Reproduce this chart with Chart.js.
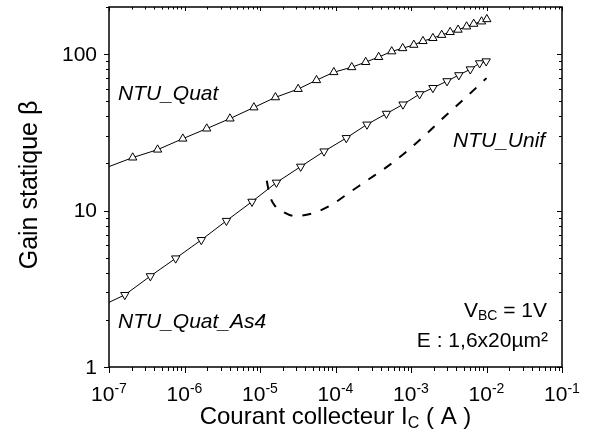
<!DOCTYPE html>
<html>
<head>
<meta charset="utf-8">
<script src="https://cdn.jsdelivr.net/npm/chart.js@4.4.0/dist/chart.umd.min.js"></script>
<style>
  html, body { margin: 0; padding: 0; background: #fff; }
  #chart { display: block; }
</style>
</head>
<body>
<canvas id="chart" width="589" height="432"></canvas>
<script>
// NTU_Quat (up triangles), collector current in A, static gain
const quatI = [1e-7, 2.06e-7, 4.4e-7, 9.5e-7, 1.97e-6, 4.0e-6, 8.3e-6, 1.6e-5, 3.2e-5, 5.6e-5, 9.5e-5, 1.64e-4, 2.51e-4, 3.73e-4, 5.55e-4, 7.76e-4, 1.09e-3, 1.44e-3, 1.95e-3, 2.55e-3, 3.3e-3, 4.2e-3, 5.45e-3, 6.77e-3, 8.6e-3, 1.01e-2];
const quatBeta = [19.1, 21.8, 24.5, 28.8, 33.4, 38.7, 45.6, 52.9, 59.8, 68.1, 76.6, 82.4, 88.9, 95.7, 104, 109, 114.5, 121, 126.5, 132.5, 138.2, 143, 150, 156, 161.5, 167];

// NTU_Quat_As4 (down triangles)
const as4I = [1e-7, 1.62e-7, 3.53e-7, 7.64e-7, 1.67e-6, 3.59e-6, 7.83e-6, 1.65e-5, 3.46e-5, 7.05e-5, 1.39e-4, 2.61e-4, 4.72e-4, 7.83e-4, 1.30e-3, 1.95e-3, 3.0e-3, 4.3e-3, 6.1e-3, 8.1e-3, 9.9e-3];
const as4Beta = [2.59, 2.89, 3.81, 4.95, 6.49, 8.6, 11.4, 15.1, 19.1, 23.9, 29.1, 35.5, 41.6, 47.7, 55.5, 60.8, 67.2, 73.4, 80, 87.5, 90];

// NTU_Unif (dashed)
const unifI = [1.23e-5, 1.34e-5, 1.56e-5, 2.06e-5, 2.88e-5, 4.84e-5, 8.65e-5, 1.55e-4, 2.68e-4, 5.0e-4, 8.8e-4, 1.57e-3, 2.8e-3, 5.0e-3, 1.0e-2];
const unifBeta = [15.5, 12.6, 10.8, 9.77, 9.22, 9.57, 10.8, 13.1, 15.7, 19.3, 23.9, 30.6, 39.9, 51.4, 70.2];

// axis ticks
const xTickExps = [-7, -6, -5, -4, -3, -2, -1];
const yTickLabels = [1, 10, 100];

const FONT = "'Liberation Sans', Arial, sans-serif";

function points(xs, ys) {
  return xs.map((v, i) => ({ x: v, y: ys[i] }));
}

// draw a run of text pieces (for sub/superscripts)
function drawParts(ctx, parts, x, y, align) {
  const fontOf = p => (p.italic ? 'italic ' : '') + p.size + 'px ' + FONT;
  let w = 0;
  parts.forEach(p => { ctx.font = fontOf(p); w += ctx.measureText(p.t).width; });
  let cx = align === 'center' ? x - w / 2 : align === 'right' ? x - w : x;
  ctx.textAlign = 'left';
  ctx.textBaseline = 'alphabetic';
  parts.forEach(p => {
    ctx.font = fontOf(p);
    ctx.fillText(p.t, cx, y + (p.dy || 0));
    cx += ctx.measureText(p.t).width;
  });
}

const framePlugin = {
  id: 'frame',
  afterDraw(chart) {
    const ctx = chart.ctx;
    const { left, right, top, bottom } = chart.chartArea;
    const xs = chart.scales.x, ys = chart.scales.y;
    ctx.save();
    ctx.strokeStyle = '#000';
    ctx.fillStyle = '#000';
    ctx.lineWidth = 1.5;
    ctx.strokeRect(left, top, right - left, bottom - top);

    // tick marks
    ctx.lineWidth = 1;
    ctx.beginPath();
    xTickExps.forEach(e => {
      const px = Math.round(xs.getPixelForValue(Math.pow(10, e))) + 0.5;
      ctx.moveTo(px, bottom); ctx.lineTo(px, bottom + 6);
      ctx.moveTo(px, top); ctx.lineTo(px, top + 4);
      if (e < -1) {
        for (let k = 2; k <= 9; k++) {
          const mx = Math.round(xs.getPixelForValue(k * Math.pow(10, e))) + 0.5;
          ctx.moveTo(mx, bottom); ctx.lineTo(mx, bottom + 4);
          ctx.moveTo(mx, top); ctx.lineTo(mx, top + 2.5);
        }
      }
    });
    yTickLabels.forEach(v => {
      const py = Math.round(ys.getPixelForValue(v)) + 0.5;
      ctx.moveTo(left, py); ctx.lineTo(left - 5, py);
      ctx.moveTo(right, py); ctx.lineTo(right - 5, py);
      for (let k = 2; k <= 9; k++) {
        const val = k * v;
        if (val > ys.max) break;
        const my = Math.round(ys.getPixelForValue(val)) + 0.5;
        ctx.moveTo(left, my); ctx.lineTo(left - 3, my);
        ctx.moveTo(right, my); ctx.lineTo(right - 3, my);
      }
    });
    ctx.stroke();

    // tick labels
    xTickExps.forEach(e => {
      const px = xs.getPixelForValue(Math.pow(10, e));
      drawParts(ctx, [{ t: '10', size: 21 }, { t: String(e), size: 14, dy: -8 }], px, 401, 'center');
    });
    ctx.font = '21px ' + FONT;
    ctx.textAlign = 'right';
    ctx.textBaseline = 'middle';
    yTickLabels.forEach(v => {
      ctx.fillText(String(v), 97, ys.getPixelForValue(v) + 1);
    });

    // axis titles
    drawParts(ctx, [
      { t: 'Courant collecteur I', size: 24 },
      { t: 'C', size: 16, dy: 4 },
      { t: ' ( A )', size: 24 }
    ], (left + right) / 2, 424, 'center');

    ctx.save();
    ctx.translate(37, 185);
    ctx.rotate(-Math.PI / 2);
    ctx.font = '25px ' + FONT;
    ctx.textAlign = 'center';
    ctx.textBaseline = 'alphabetic';
    ctx.fillText('Gain statique \u03B2', 0, 0);
    ctx.restore();

    // curve labels and notes
    drawParts(ctx, [{ t: 'NTU_Quat', size: 21, italic: true }], 118, 100, 'left');
    drawParts(ctx, [{ t: 'NTU_Unif', size: 21, italic: true }], 453, 147, 'left');
    drawParts(ctx, [{ t: 'NTU_Quat_As4', size: 21, italic: true }], 118, 328, 'left');
    drawParts(ctx, [
      { t: 'V', size: 21 },
      { t: 'BC', size: 14, dy: 3 },
      { t: ' = 1V', size: 21 }
    ], 547, 317, 'right');
    drawParts(ctx, [{ t: 'E : 1,6x20\u00B5m\u00B2', size: 21 }], 548, 347, 'right');
    ctx.restore();
  }
};

const markerRadius = c => (c.dataIndex === 0 ? 0 : 4.8);

new Chart(document.getElementById('chart'), {
  type: 'line',
  data: {
    datasets: [
      {
        label: 'NTU_Unif',
        data: points(unifI, unifBeta),
        borderColor: '#000',
        borderWidth: 2,
        borderDash: [9, 10],
        cubicInterpolationMode: 'monotone',
        pointRadius: 0,
        fill: false
      },
      {
        label: 'NTU_Quat_As4',
        data: points(as4I, as4Beta),
        borderColor: '#000',
        borderWidth: 1,
        pointStyle: 'triangle',
        pointRotation: 180,
        pointRadius: markerRadius,
        pointBackgroundColor: '#fff',
        pointBorderColor: '#000',
        pointBorderWidth: 1,
        fill: false
      },
      {
        label: 'NTU_Quat',
        data: points(quatI, quatBeta),
        borderColor: '#000',
        borderWidth: 1,
        pointStyle: 'triangle',
        pointRadius: markerRadius,
        pointBackgroundColor: '#fff',
        pointBorderColor: '#000',
        pointBorderWidth: 1,
        fill: false
      }
    ]
  },
  options: {
    responsive: false,
    animation: false,
    devicePixelRatio: 1,
    layout: { padding: { top: 7, right: 27, left: 0, bottom: 0 } },
    plugins: {
      legend: { display: false },
      tooltip: { enabled: false }
    },
    scales: {
      x: {
        type: 'logarithmic',
        min: 1e-7,
        max: 1e-1,
        grid: { display: false },
        border: { display: false },
        ticks: { display: false },
        afterFit: s => { s.height = 65; }
      },
      y: {
        type: 'logarithmic',
        min: 1,
        max: 200,
        grid: { display: false },
        border: { display: false },
        ticks: { display: false },
        afterFit: s => { s.width = 109; }
      }
    }
  },
  plugins: [framePlugin]
});
</script>
</body>
</html>
